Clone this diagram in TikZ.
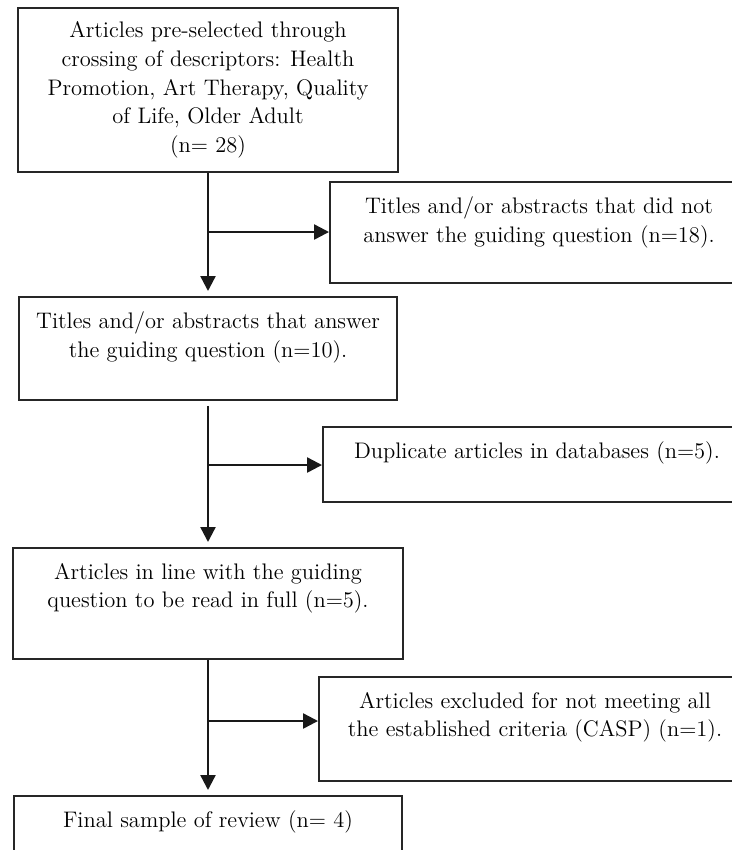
\documentclass[tikz,border=0pt]{standalone}
\usetikzlibrary{positioning,arrows.meta}

\newcommand{\stagetext}[3]{\parbox[c][#2][t]{#1}{\centering #3}}

\tikzset{
  stage/.style={draw=black!85, line width=0.4mm, inner xsep=0pt, inner ysep=0.3cm,
    font=\fontsize{12.8}{16.3}\selectfont},
  flow/.style={draw=black!90, line width=0.46mm,
    -{Triangle[length=0.3cm,width=0.3cm]}},
}

\begin{document}
\begin{tikzpicture}[x=0.02cm, y=-0.02cm]
        \useasboundingbox (0,0) rectangle (732,850);
        \clip (0,0) rectangle (732,850);
        %left column
            \draw (208,90) node(pre) [stage, inner ysep=0pt] {\parbox[c][3.28cm][c]{7.6cm}{\centering
                  Articles pre-selected through\\crossing of descriptors: Health\\Promotion, Art Therapy, Quality\\of Life, Older Adult\\(n= 28)}}
                  (208,348.5) node(ans) [stage] {\stagetext{7.58cm}{1.46cm}{Titles and/or abstracts that answer\\the guiding question (n=10).}}
                  (208,603.5) node(full) [stage] {\stagetext{7.8cm}{1.62cm}{Articles in line with the guiding\\question to be read in full (n=5).}}
                  (208,846) node(final) [stage] {\stagetext{7.78cm}{1.4cm}{Final sample of review (n= 4)}};
        %right column
            \draw (539,232.5) node(notans) [stage] {\stagetext{8.36cm}{1.42cm}{Titles and/or abstracts that did not\\answer the guiding question (n=18).}}
                  (537,464.5) node(dup) [stage] {\stagetext{8.56cm}{0.9cm}{Duplicate articles in databases (n=5).}}
                  (535,729) node(excl) [stage] {\stagetext{8.64cm}{1.48cm}{Articles excluded for not meeting all\\the established criteria (CASP) (n=1).}};

            \coordinate (j1) at (208,232);
            \coordinate (j2) at (208,465);
            \coordinate (j3) at (208,721);

            \draw[flow, shorten >=0.1cm] (pre) to (ans);
            \draw[flow, shorten <=0.1cm, shorten >=0.1cm] (ans) to (full);
            \draw[flow, shorten >=0.1cm] (full) to (final);
            \draw[flow] (j1) to (j1 -| notans.west);
            \draw[flow] (j2) to (j2 -| dup.west);
            \draw[flow] (j3) to (j3 -| excl.west);
        \end{tikzpicture}
\end{document}
